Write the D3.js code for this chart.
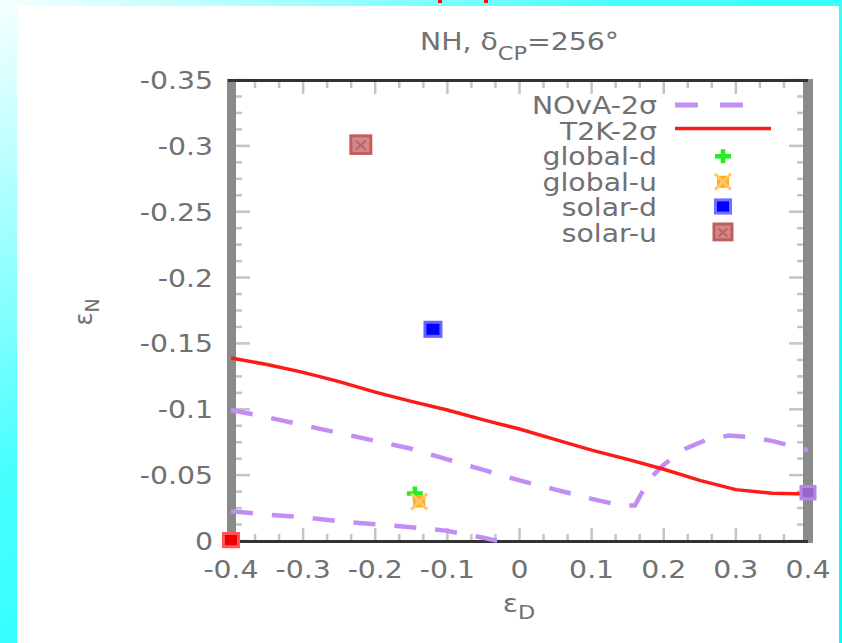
<!DOCTYPE html>
<html>
<head>
<meta charset="utf-8">
<script src="https://cdn.jsdelivr.net/npm/d3@7"></script>
<style>
  html, body { margin: 0; padding: 0; background: #fff; }
  svg { display: block; }
</style>
</head>
<body>
<div id="chart"></div>
<script>
// chart values
let xTicks = [-0.4, -0.3, -0.2, -0.1, 0, 0.1, 0.2, 0.3, 0.4]
let xTickLabels = ['-0.4', '-0.3', '-0.2', '-0.1', '0', '0.1', '0.2', '0.3', '0.4']
let yTicks = [0, -0.05, -0.1, -0.15, -0.2, -0.25, -0.3, -0.35]
let yTickLabels = ['0', '-0.05', '-0.1', '-0.15', '-0.2', '-0.25', '-0.3', '-0.35']

let t2kCurve = [
    [-0.4, -0.139], [-0.35, -0.134], [-0.3, -0.128], [-0.25, -0.121], [-0.2, -0.113],
    [-0.15, -0.106], [-0.1, -0.0995], [-0.05, -0.092], [0, -0.085], [0.05, -0.077],
    [0.1, -0.069], [0.15, -0.062], [0.2, -0.0545], [0.25, -0.046], [0.3, -0.039],
    [0.35, -0.0362], [0.4, -0.0357]
]
let novaUpper = [
    [-0.4, -0.0995], [-0.35, -0.094], [-0.3, -0.088], [-0.25, -0.082], [-0.2, -0.076],
    [-0.15, -0.070], [-0.1, -0.062], [-0.05, -0.054], [0, -0.046], [0.05, -0.039],
    [0.1, -0.032], [0.14, -0.027], [0.16, -0.027], [0.18, -0.047], [0.2, -0.058],
    [0.23, -0.070], [0.26, -0.077], [0.29, -0.080], [0.32, -0.079], [0.35, -0.076],
    [0.4, -0.069]
]
let novaLower = [
    [-0.4, -0.0225], [-0.35, -0.020], [-0.3, -0.018], [-0.25, -0.015], [-0.2, -0.0128],
    [-0.15, -0.0105], [-0.1, -0.0077], [-0.05, -0.0025], [-0.03, 0]
]
let t2kCorner = [[-0.4, 0]]
let novaEdge = [[0.4, -0.036]]
let globalD = [[-0.145, -0.036]]
let globalU = [[-0.139, -0.030]]
let solarD = [[-0.12, -0.160]]
let solarU = [[-0.22, -0.300]]
let legendNames = ['NOvA-2\u03c3', 'T2K-2\u03c3', 'global-d', 'global-u', 'solar-d', 'solar-u']

let width = 842
let height = 643
let textColor = '#717171'
let fontFamily = 'DejaVu Sans, sans-serif'
let fontSize = 24
let stretch = 1.18
let t2kColor = '#ff1a1a'
let novaColor = '#c08ef5'

let svg = d3.select('#chart').append('svg')
    .attr('width', width)
    .attr('height', height)

// cyan gradient frame behind the white page
let grad = svg.append('defs').append('linearGradient')
    .attr('id', 'frame')
    .attr('x1', 0).attr('y1', 0)
    .attr('x2', 1).attr('y2', 1)
grad.append('stop').attr('offset', 0).attr('stop-color', '#f8ffff')
grad.append('stop').attr('offset', 0.37).attr('stop-color', '#48ffff')
grad.append('stop').attr('offset', 0.63).attr('stop-color', '#26ffff')
grad.append('stop').attr('offset', 1).attr('stop-color', '#00ffff')
svg.append('rect')
    .attr('width', width).attr('height', height)
    .attr('fill', 'url(#frame)')
svg.append('rect')
    .attr('x', 17).attr('y', 6)
    .attr('width', 822).attr('height', 637)
    .attr('fill', '#fff')
// two red specks left over at the top edge
svg.selectAll('.speck').data([440, 486]).enter().append('rect')
    .attr('x', d => d - 2).attr('y', 0)
    .attr('width', 4).attr('height', 3)
    .attr('fill', '#ee1111')

let x = d3.scaleLinear().domain([-0.4, 0.4]).range([231, 808])
let y = d3.scaleLinear().domain([0, -0.35]).range([541, 80])

// stretched text helper, the reference font is wide
function label(parent, px, py, anchor) {
    return parent.append('g')
        .attr('transform', `translate(${px},${py}) scale(${stretch},1)`)
        .append('text')
        .attr('text-anchor', anchor)
        .attr('font-family', fontFamily)
        .attr('font-size', fontSize)
        .attr('fill', textColor)
}

// ticks
let xMinor = d3.range(-0.4, 0.4001, 0.1 / 3)
let yMinor = d3.range(0, -0.3501, -0.0125)
let tickColor = '#c4c4c4'
svg.selectAll('.xminor').data(xMinor).enter().append('g')
    .each(function (d) {
        let g = d3.select(this)
        let major = xTicks.some(t => Math.abs(t - d) < 1e-6)
        let len = major ? 12 : 6
        g.append('line')
            .attr('x1', x(d)).attr('x2', x(d))
            .attr('y1', 82).attr('y2', 82 + len)
            .attr('stroke', tickColor).attr('stroke-width', 2.5)
        g.append('line')
            .attr('x1', x(d)).attr('x2', x(d))
            .attr('y1', 540).attr('y2', 540 - len)
            .attr('stroke', tickColor).attr('stroke-width', 2.5)
    })
svg.selectAll('.yminor').data(yMinor).enter().append('g')
    .each(function (d) {
        let g = d3.select(this)
        let major = yTicks.some(t => Math.abs(t - d) < 1e-6)
        let len = major ? 14 : 6
        g.append('line')
            .attr('x1', 236).attr('x2', 236 + len)
            .attr('y1', y(d)).attr('y2', y(d))
            .attr('stroke', tickColor).attr('stroke-width', 2.5)
        g.append('line')
            .attr('x1', 803).attr('x2', 803 - len)
            .attr('y1', y(d)).attr('y2', y(d))
            .attr('stroke', tickColor).attr('stroke-width', 2.5)
    })

// border: gray bars left and right, dark lines top and bottom
svg.append('rect').attr('x', 227).attr('y', 79).attr('width', 9).attr('height', 463).attr('fill', '#8a8a8a')
svg.append('rect').attr('x', 803).attr('y', 79).attr('width', 10).attr('height', 464).attr('fill', '#8a8a8a')
svg.append('rect').attr('x', 228).attr('y', 79).attr('width', 580).attr('height', 3).attr('fill', '#333')
svg.append('rect').attr('x', 228).attr('y', 540).attr('width', 580).attr('height', 3).attr('fill', '#333')

// tick labels
xTicks.forEach((t, i) => {
    label(svg, x(t), 578, 'middle').text(xTickLabels[i])
})
yTicks.forEach((t, i) => {
    label(svg, 213, y(t) + 9, 'end').text(yTickLabels[i])
})

// title
let title = label(svg, 519.5, 50, 'middle')
title.append('tspan').text('NH, \u03b4')
title.append('tspan').attr('font-size', 19).attr('dy', 10).text('CP')
title.append('tspan').attr('dy', -10).text('=256\u00b0')

// axis titles
let xt = label(svg, 519, 612, 'middle')
xt.append('tspan').text('\u03b5')
xt.append('tspan').attr('font-size', 19).attr('dy', 7).text('D')
svg.append('text')
    .attr('transform', 'translate(92,312) rotate(-90)')
    .attr('text-anchor', 'middle')
    .attr('font-family', fontFamily)
    .attr('font-size', fontSize)
    .attr('fill', textColor)
    .call(t => {
        t.append('tspan').text('\u03b5')
        t.append('tspan').attr('font-size', 19).attr('dy', 7).text('N')
    })

// curves
let line = d3.line().x(d => x(d[0])).y(d => y(d[1]))
let plot = svg.append('g')
;[novaUpper, novaLower].forEach(c => {
    plot.append('path')
        .attr('d', line(c))
        .attr('fill', 'none')
        .attr('stroke', novaColor)
        .attr('stroke-width', 4.5)
        .attr('stroke-dasharray', '22,19')
})
plot.append('path')
    .attr('d', line(t2kCurve))
    .attr('fill', 'none')
    .attr('stroke', t2kColor)
    .attr('stroke-width', 3.5)

// markers
function square(g, cx, cy, size, fill, edge) {
    g.append('rect')
        .attr('x', cx - size / 2).attr('y', cy - size / 2)
        .attr('width', size).attr('height', size * 0.88)
        .attr('fill', fill)
        .attr('stroke', edge).attr('stroke-width', 3)
}
function plus(g, cx, cy) {
    g.append('path')
        .attr('d', `M${cx - 8},${cy}H${cx + 8}M${cx},${cy - 7}V${cy + 7}`)
        .attr('stroke', '#22ee22').attr('stroke-width', 4.5)
}
function cross(g, cx, cy) {
    g.append('rect')
        .attr('x', cx - 6).attr('y', cy - 6).attr('width', 12).attr('height', 12)
        .attr('fill', '#ffad1f')
    g.append('path')
        .attr('d', `M${cx - 8},${cy - 8}L${cx + 8},${cy + 8}M${cx + 8},${cy - 8}L${cx - 8},${cy + 8}`)
        .attr('stroke', '#ffc566').attr('stroke-width', 3)
}
function solarUMark(g, cx, cy, size) {
    square(g, cx, cy, size, '#d08888', '#c45e5e')
    g.append('path')
        .attr('d', `M${cx - size / 4},${cy - size / 4}L${cx + size / 4},${cy + size / 5}M${cx + size / 4},${cy - size / 4}L${cx - size / 4},${cy + size / 5}`)
        .attr('stroke', '#c06262').attr('stroke-width', 2)
}

t2kCorner.forEach(d => square(plot, x(d[0]), y(d[1]), 15, '#ee0000', '#ff5555'))
novaEdge.forEach(d => square(plot, x(d[0]), y(d[1]), 14, '#9a66cc', '#b088e8'))
globalD.forEach(d => plus(plot, x(d[0]), y(d[1])))
globalU.forEach(d => cross(plot, x(d[0]), y(d[1])))
solarD.forEach(d => square(plot, x(d[0]), y(d[1]), 16, '#0000ff', '#6464ff'))
solarU.forEach(d => solarUMark(plot, x(d[0]), y(d[1]), 20))

// legend
let legend = svg.append('g')
legendNames.forEach((name, i) => {
    let ly = 105 + i * 25.6
    label(legend, 657, ly + 9, 'end').text(name)
    if (i === 0) {
        legend.append('line')
            .attr('x1', 675).attr('x2', 743).attr('y1', ly).attr('y2', ly)
            .attr('stroke', novaColor).attr('stroke-width', 5)
            .attr('stroke-dasharray', '23,22')
    } else if (i === 1) {
        legend.append('line')
            .attr('x1', 675).attr('x2', 771).attr('y1', ly - 2).attr('y2', ly - 2)
            .attr('stroke', t2kColor).attr('stroke-width', 3.5)
    } else if (i === 2) {
        plus(legend, 723, ly)
    } else if (i === 3) {
        cross(legend, 723, ly)
    } else if (i === 4) {
        square(legend, 723, ly, 15, '#0000ff', '#7070ff')
    } else {
        solarUMark(legend, 723, ly, 18)
    }
})
</script>
</body>
</html>
